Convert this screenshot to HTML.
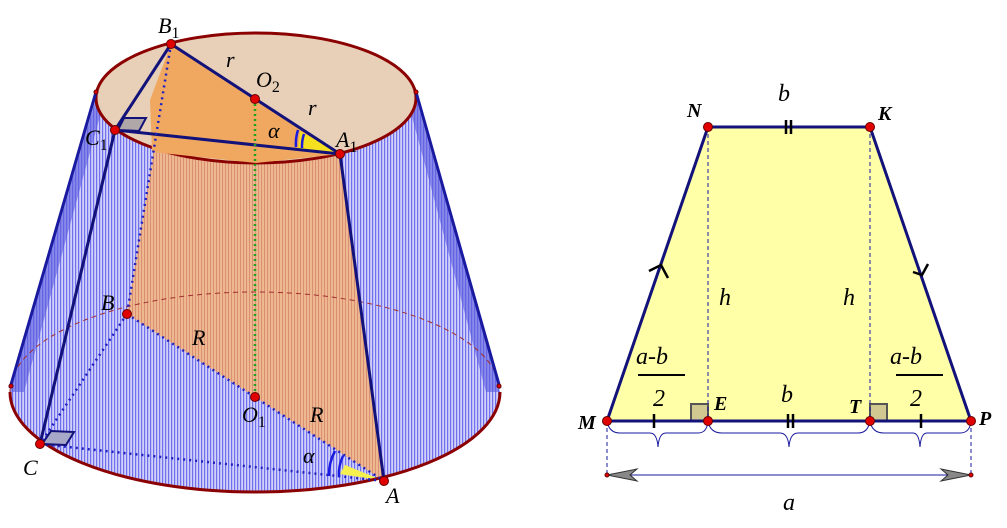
<!DOCTYPE html>
<html><head><meta charset="utf-8"><style>
html,body{margin:0;padding:0;background:#fff;}
svg{display:block;}
text{font-family:"Liberation Serif",serif;font-style:italic;}
</style></head><body>
<svg width="1007" height="528" viewBox="0 0 1007 528" xmlns="http://www.w3.org/2000/svg">
<defs>
<pattern id="hb" width="3" height="6" patternUnits="userSpaceOnUse"><rect width="3" height="6" fill="#d0d0f8"/><rect width="1.2" height="6" fill="#7070ee"/></pattern>
<pattern id="ho" width="3" height="6" patternUnits="userSpaceOnUse"><rect width="3" height="6" fill="#f0b888"/><rect width="1" height="6" fill="#e09070"/></pattern>
</defs>
<path d="M96,98 L10,392 A245,100 0 0 0 500,392 L416,98 Z" fill="url(#hb)"/>
<path d="M96,98 L10,392 L24,392 L105,98Z" fill="#5a5ae0" opacity="0.6"/>
<path d="M416,98 L500,392 L486,392 L407,98Z" fill="#5a5ae0" opacity="0.6"/>
<polygon points="171,44 340,154 384,481 127,314" fill="url(#ho)" opacity="0.95"/>
<ellipse cx="256" cy="98" rx="160" ry="65" fill="#e8d0b8" stroke="#8b0000" stroke-width="3"/>
<path d="M171,44 L340,154 L256,163 L152,152 L150,100Z" fill="#f0a860"/>
<polygon points="300,131 340,154 298,150" fill="#f5e020"/>
<polygon points="345,465 384,481 340,474" fill="#f5f050"/>
<path d="M10,392 A245,100 0 0 1 500,392" fill="none" stroke="#a03030" stroke-width="1" stroke-dasharray="5,4"/>
<path d="M10,392 A245,100 0 0 0 500,392" fill="none" stroke="#8b0000" stroke-width="3"/>
<line x1="96" y1="92" x2="10" y2="388" stroke="#1a1aa0" stroke-width="3"/>
<line x1="416" y1="92" x2="500" y2="388" stroke="#1a1aa0" stroke-width="3"/>
<g stroke="#12127a" stroke-width="3" fill="none">
<line x1="171" y1="44" x2="340" y2="154"/>
<line x1="171" y1="44" x2="115" y2="130"/>
<line x1="115" y1="130" x2="340" y2="154"/>
<line x1="115" y1="130" x2="40" y2="444"/>
<line x1="340" y1="154" x2="384" y2="481"/>
</g>
<g stroke="#2020c0" stroke-width="2.5" fill="none" stroke-dasharray="2,4">
<line x1="171" y1="44" x2="127" y2="314"/>
<line x1="127" y1="314" x2="384" y2="481"/>
<line x1="127" y1="314" x2="40" y2="444"/>
<line x1="40" y1="444" x2="384" y2="481"/>
</g>
<line x1="255" y1="99" x2="255" y2="397" stroke="#20a020" stroke-width="2.5" stroke-dasharray="2,3"/>
<polygon points="118,130 124,118 146,118 139,131" fill="#b0a8a8" stroke="#12127a" stroke-width="2"/>
<polygon points="42,444 51,431 74,432 66,445" fill="#a8a8c8" stroke="#12127a" stroke-width="2"/>
<path d="M298,130 A44,44 0 0 0 296,147" stroke="#1a1ae0" stroke-width="2.5" fill="none"/>
<path d="M304,134 A38,38 0 0 0 302,148" stroke="#1a1ae0" stroke-width="2.5" fill="none"/>
<path d="M335,451 A50,50 0 0 0 329,476" stroke="#1a1ae0" stroke-width="2.5" fill="none"/>
<path d="M343,456 A42,42 0 0 0 339,477" stroke="#1a1ae0" stroke-width="2.5" fill="none"/>
<g fill="#e00000" stroke="#600" stroke-width="1">
<circle cx="171" cy="44" r="4.5"/><circle cx="255" cy="99" r="4.5"/><circle cx="340" cy="154" r="4.5"/>
<circle cx="115" cy="130" r="4.5"/><circle cx="127" cy="314" r="4.5"/><circle cx="255" cy="397" r="4.5"/>
<circle cx="384" cy="481" r="4.5"/><circle cx="40" cy="444" r="4.5"/>
<circle cx="96" cy="92" r="2"/><circle cx="416" cy="92" r="2"/><circle cx="11" cy="386" r="2"/><circle cx="499" cy="386" r="2"/>
</g>
<g font-size="22" fill="#000">
<text x="158" y="33">B<tspan font-size="16" dy="5" font-style="normal">1</tspan></text>
<text x="226" y="67">r</text>
<text x="256" y="87">O<tspan font-size="16" dy="5" font-style="normal">2</tspan></text>
<text x="308" y="115">r</text>
<text x="268" y="138">α</text>
<text x="336" y="147">A<tspan font-size="16" dy="5" font-style="normal">1</tspan></text>
<text x="85" y="145">C<tspan font-size="16" dy="5" font-style="normal">1</tspan></text>
<text x="101" y="310">B</text>
<text x="192" y="345">R</text>
<text x="242" y="422">O<tspan font-size="16" dy="5" font-style="normal">1</tspan></text>
<text x="310" y="422">R</text>
<text x="303" y="463">α</text>
<text x="23" y="475">C</text>
<text x="386" y="503">A</text>
</g>
<polygon points="607,421 708,127 870,127 971,421" fill="#ffffa8"/>
<rect x="691" y="404" width="17" height="17" fill="#d0c890" stroke="#555" stroke-width="2"/>
<rect x="870" y="404" width="17" height="17" fill="#d0c890" stroke="#555" stroke-width="2"/>
<g stroke="#1a1aa0" stroke-width="1" stroke-dasharray="4,3">
<line x1="708" y1="127" x2="708" y2="421"/><line x1="870" y1="127" x2="870" y2="421"/>
<line x1="607" y1="421" x2="607" y2="475"/><line x1="971" y1="421" x2="971" y2="475"/>
</g>
<polygon points="607,421 708,127 870,127 971,421" fill="none" stroke="#12127a" stroke-width="3"/>
<g stroke="#000" stroke-width="2.5">
<line x1="786" y1="120" x2="786" y2="134"/><line x1="791" y1="120" x2="791" y2="134"/>
<line x1="788" y1="414" x2="788" y2="428"/><line x1="793" y1="414" x2="793" y2="428"/>
<line x1="654" y1="414" x2="654" y2="428"/><line x1="921" y1="414" x2="921" y2="428"/>
</g>
<path d="M649,271 L661,265 L668,278" stroke="#000" stroke-width="2.5" fill="none"/>
<path d="M913,272 L922,275 L928,264" stroke="#000" stroke-width="2.5" fill="none"/>
<g stroke="#1a1aa0" stroke-width="1" fill="none">
<path d="M607,421 Q609,433 620,433 L650,433 Q657,433 658,447 Q659,433 666,433 L698,433 Q707,433 708,421"/>
<path d="M708,421 Q710,433 722,433 L780,433 Q788,433 789,447 Q790,433 798,433 L858,433 Q868,433 870,421"/>
<path d="M870,421 Q872,433 884,433 L913,433 Q919,433 920,447 Q921,433 927,433 L960,433 Q970,433 971,421"/>
<line x1="620" y1="475" x2="958" y2="475"/>
</g>
<polygon points="607,475 637,469 630,475 637,481" fill="#888" stroke="#333" stroke-width="1"/>
<polygon points="971,475 941,469 948,475 941,481" fill="#888" stroke="#333" stroke-width="1"/>
<g fill="#e00000" stroke="#600" stroke-width="1">
<circle cx="708" cy="127" r="4.5"/><circle cx="870" cy="127" r="4.5"/><circle cx="607" cy="421" r="4.5"/>
<circle cx="971" cy="421" r="4.5"/><circle cx="708" cy="421" r="4.5"/><circle cx="870" cy="421" r="4.5"/>
<circle cx="607" cy="475" r="2"/><circle cx="971" cy="475" r="2"/>
</g>
<g font-size="24" fill="#000">
<text x="778" y="101">b</text>
<text x="687" y="117" font-size="20" font-weight="bold">N</text>
<text x="878" y="120" font-size="20" font-weight="bold">K</text>
<text x="719" y="305">h</text>
<text x="843" y="305">h</text>
<text x="636" y="364">a-b</text>
<text x="890" y="364">a-b</text>
<text x="653" y="406">2</text>
<text x="910" y="406">2</text>
<text x="781" y="402">b</text>
<text x="714" y="410" font-size="20" font-weight="bold">E</text>
<text x="849" y="413" font-size="20" font-weight="bold">T</text>
<text x="578" y="429" font-size="20" font-weight="bold">M</text>
<text x="979" y="425" font-size="20" font-weight="bold">P</text>
<text x="783" y="510">a</text>
</g>
<line x1="638" y1="375" x2="685" y2="375" stroke="#000" stroke-width="2"/>
<line x1="896" y1="375" x2="943" y2="375" stroke="#000" stroke-width="2"/>
</svg>
</body></html>
